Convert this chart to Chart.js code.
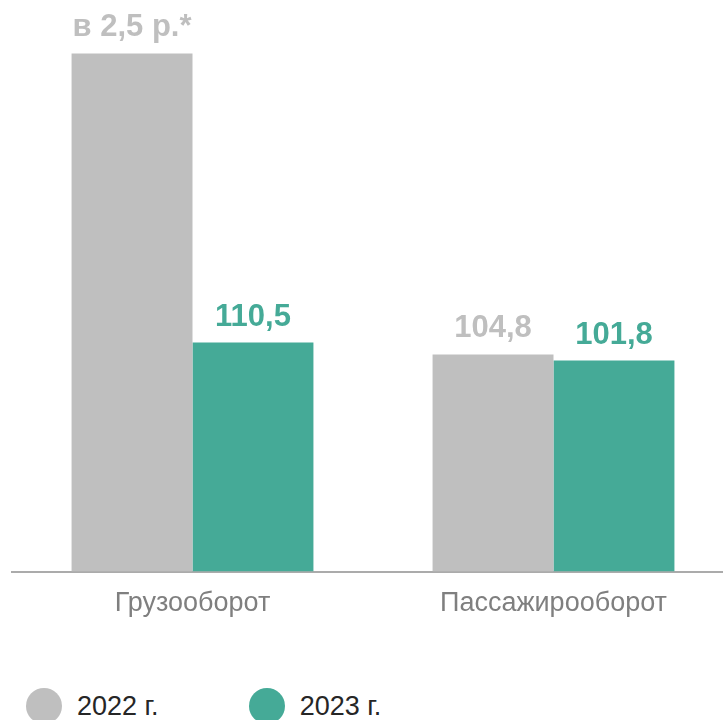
<!DOCTYPE html>
<html>
<head>
<meta charset="utf-8">
<script src="https://cdn.jsdelivr.net/npm/chart.js@4.4.1/dist/chart.umd.min.js"></script>
<style>
  body { margin: 0; background: #fff; overflow: hidden; font-family: "Liberation Sans", Arial, sans-serif; }
  #wrap { position: absolute; left: 0; top: 0; width: 740px; height: 640px; }
  #legend { position: absolute; left: 26px; top: 688px; display: flex; }
  .item { display: flex; align-items: center; }
  .dot { width: 36px; height: 36px; border-radius: 50%; }
  .txt { font-size: 27px; color: #262626; margin-left: 15px; }
</style>
</head>
<body>
<div id="wrap"><canvas id="chart"></canvas></div>
<div id="legend"></div>
<script>
// данные
const categories = ['Грузооборот', 'Пассажирооборот'];
const years = ['2022 г.', '2023 г.'];
const values2022 = [250, 104.8];   // "в 2,5 р." ~ 250 %
const values2023 = [110.5, 101.8];
const labels2022 = ['в 2,5 р.*', '104,8'];
const labels2023 = ['110,5', '101,8'];

const grey = '#BFBFBF';
const teal = '#45AA97';

// подписи над столбцами
const valueLabels = {
  id: 'valueLabels',
  afterDatasetsDraw(chart) {
    const ctx = chart.ctx;
    ctx.save();
    ctx.font = 'bold 31px "Liberation Sans", Arial, sans-serif';
    ctx.textAlign = 'center';
    ctx.textBaseline = 'alphabetic';
    chart.data.datasets.forEach((ds, i) => {
      const meta = chart.getDatasetMeta(i);
      ctx.fillStyle = ds.labelColor;
      meta.data.forEach((bar, j) => {
        ctx.fillText(ds.valueLabels[j], bar.x, bar.y - 17);
      });
    });
    ctx.restore();
  }
};

const chart = new Chart(document.getElementById('chart'), {
  type: 'bar',
  data: {
    labels: categories,
    datasets: [
      { label: years[0], data: values2022, backgroundColor: grey, valueLabels: labels2022, labelColor: grey },
      { label: years[1], data: values2023, backgroundColor: teal, valueLabels: labels2023, labelColor: teal }
    ]
  },
  options: {
    responsive: true,
    maintainAspectRatio: false,
    animation: false,
    layout: { padding: { left: 12, right: 6, top: 12, bottom: 4 } },
    datasets: { bar: { barPercentage: 1, categoryPercentage: 0.67 } },
    plugins: { legend: { display: false }, tooltip: { enabled: false } },
    scales: {
      y: { display: false, min: 0, max: 270 },
      x: {
        grid: { display: false, drawTicks: false },
        border: { display: true, color: '#ABABAB', width: 2 },
        ticks: { color: '#7F7F7F', padding: 16, font: { family: '"Liberation Sans", Arial, sans-serif', size: 27 } }
      }
    }
  },
  plugins: [valueLabels]
});

// легенда
const legend = document.getElementById('legend');
chart.data.datasets.forEach((ds, i) => {
  const item = document.createElement('div');
  item.className = 'item';
  if (i > 0) item.style.marginLeft = '90px';
  item.innerHTML = '<div class="dot" style="background:' + ds.backgroundColor + '"></div><span class="txt">' + ds.label + '</span>';
  legend.appendChild(item);
});
</script>
</body>
</html>
